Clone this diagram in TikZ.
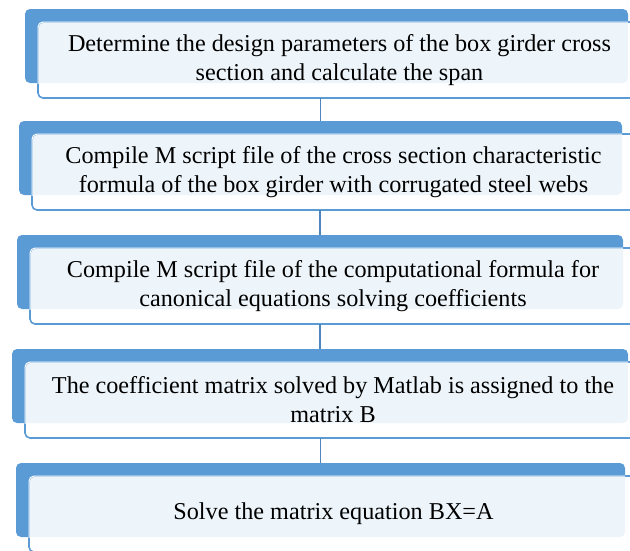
\documentclass[tikz,border=0pt]{standalone}
\usepackage{fontspec}
\setmainfont{Liberation Serif}
\newfontfamily\stepfont{Liberation Serif}
\usetikzlibrary{calc}
\definecolor{smblue}{HTML}{5B9BD5}
\definecolor{linkblue}{HTML}{4F86BE}

\begin{document}
\begin{tikzpicture}[
    x=1pt, y=-1pt,
    backbox/.style={fill=smblue, rounded corners=5pt, minimum height=74pt, inner sep=0pt, outer sep=0pt, anchor=north west},
    stepbox/.style={draw=smblue, line width=1.6pt, fill=white, fill opacity=0.9, text opacity=1, rounded corners=5pt, minimum height=76pt, inner sep=0pt, outer sep=0pt, anchor=north west, align=center, font=\stepfont\fontsize{24.2}{29}\selectfont},
    edge/.style={draw=white, line width=1pt, rounded corners=5pt},
    link/.style={draw=linkblue, line width=1.3pt}
  ]
    \useasboundingbox (0,0) rectangle (630,550);
    \node[backbox, minimum width=603pt] (b1) at (25,9) {};
    \node[stepbox, minimum width=603pt] (s1) at ($(b1.north west)+(13,13)$) {Determine the design parameters of the box girder cross\\section and calculate the span};
    \node[backbox, minimum width=603pt] (b2) at (19,121) {};
    \node[stepbox, minimum width=603pt] (s2) at ($(b2.north west)+(13,13)$) {Compile M script file of the cross section characteristic\\formula of the box girder with corrugated steel webs};
    \node[backbox, minimum width=606pt] (b3) at (17,235) {};
    \node[stepbox, minimum width=606pt] (s3) at ($(b3.north west)+(13,13)$) {Compile M script file of the computational formula for\\canonical equations solving coefficients};
    \node[backbox, minimum width=616pt] (b4) at (12,349) {};
    \node[stepbox, minimum width=616pt] (s4) at ($(b4.north west)+(13,13)$) {The coefficient matrix solved by Matlab is assigned to the\\matrix B};
    \node[backbox, minimum width=609pt] (b5) at (16,463) {};
    \node[stepbox, minimum width=609pt] (s5) at ($(b5.north west)+(13,13)$) {Solve the matrix equation BX=A};
    % white rim where the front box lies on the blue one
    \foreach \i in {1,...,5} {
      \begin{scope}
        \clip (b\i.north west) rectangle (b\i.south east);
        \draw[edge] (s\i.north west) rectangle (s\i.south east);
      \end{scope}
    }
    % links between the steps
    \foreach \i/\j in {1/2,2/3,3/4,4/5}
      \draw[link] (b\j.north |- s\i.south) -- (b\j.north);
  \end{tikzpicture}
\end{document}
